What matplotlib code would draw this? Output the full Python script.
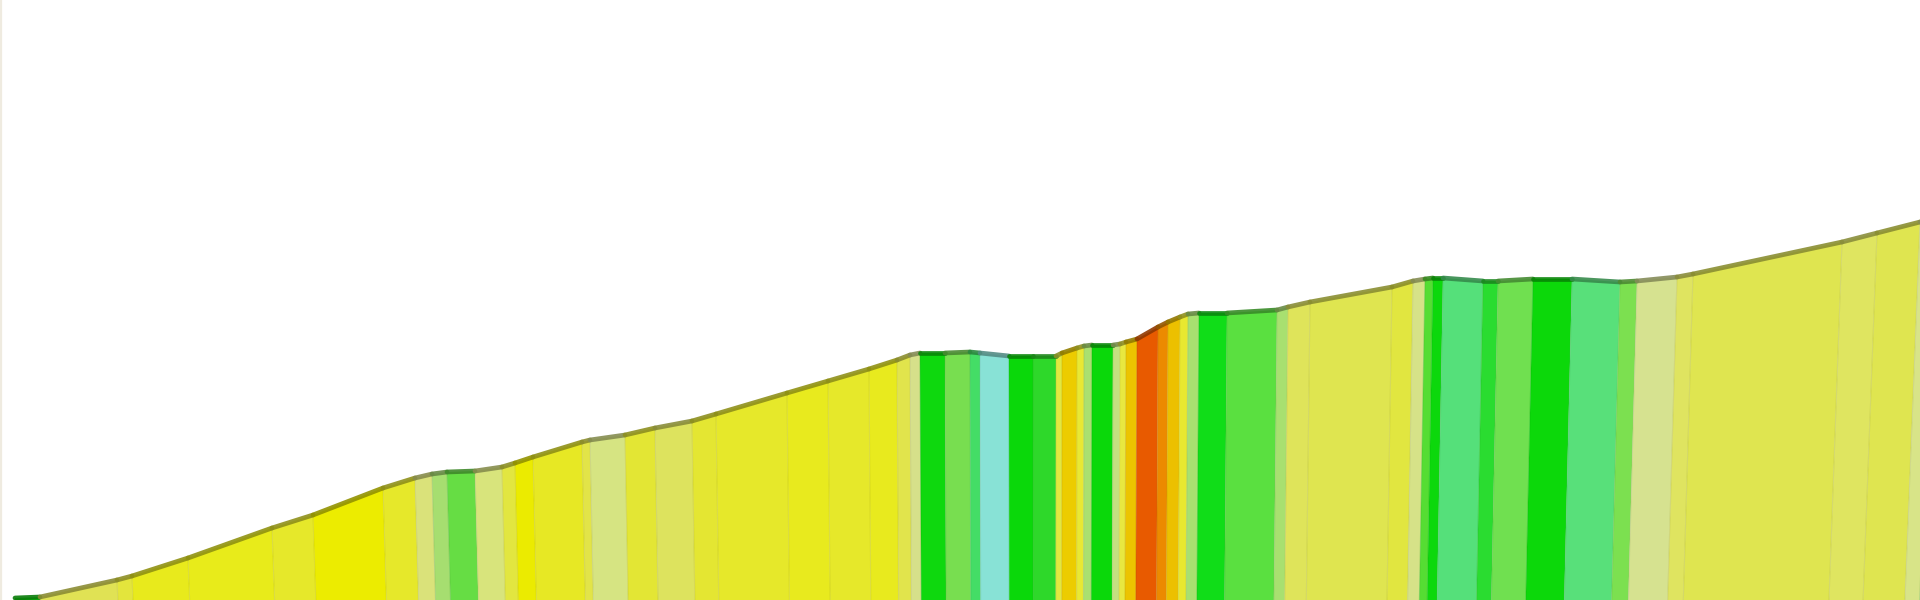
import matplotlib
matplotlib.use("Agg")
import matplotlib.pyplot as plt
from matplotlib.patches import Polygon
from matplotlib.colors import to_rgb

# Route profile: breakpoints (km) and elevation (m)
distance_km = [0.15, 0.40, 1.17, 1.32, 1.88, 2.72, 3.13, 3.83, 4.15, 4.32,
               4.47, 4.75, 5.02, 5.15, 5.33, 5.82, 5.90, 6.25, 6.55, 6.92,
               7.16, 7.87, 8.28, 8.69, 8.97, 9.10, 9.20, 9.45, 9.70, 9.80,
               10.09, 10.33, 10.56, 10.62, 10.77, 10.84, 10.92, 11.13, 11.20, 11.26,
               11.37, 11.58, 11.68, 11.80, 11.88, 11.99, 12.27, 12.77, 12.88, 13.10,
               13.92, 14.13, 14.25, 14.33, 14.43, 14.83, 14.98, 15.33, 15.72, 16.20,
               16.37, 16.77, 16.93, 18.42, 18.77, 19.20, 19.35, 20.00]

elevation_m = [204, 206, 240, 248, 284, 344, 370, 424, 444, 452,
               456, 458, 466, 474, 486, 516, 520, 530, 544, 558,
               572, 614, 638, 662, 680, 690, 694, 694, 696, 694,
               688, 688, 688, 694, 704, 708, 710, 710, 712, 716,
               722, 746, 756, 766, 772, 774, 774, 780, 786, 796,
               826, 838, 842, 844, 844, 838, 838, 842, 842, 836,
               838, 846, 852, 916, 934, 956, 962, 988]

segment_colors = ["#10c810", "#e0e254", "#e3e53c", "#e8ea1c", "#e8eb1a", "#e6e82a",
                  "#ecec00", "#e6e82a", "#dae27a", "#a6de70", "#66dd44", "#d8e47c",
                  "#e2e640", "#ebeb00", "#e7e824", "#e2e448", "#d6e482", "#e3e634",
                  "#dde35e", "#e4e632", "#e6e82a", "#e8ea1e", "#e6e82a", "#e8ea1e",
                  "#e1e44c", "#d6e08a", "#0ed80e", "#78de50", "#44dd66", "#88e2d6",
                  "#0ad80a", "#2ed82a", "#e2e840", "#eccc00", "#e8e834", "#aae070",
                  "#0ad80a", "#c4e080", "#e8e840", "#ecc400", "#e85a00", "#ec8a00",
                  "#ecc000", "#e8e830", "#a8e070", "#10dd18", "#5ae040", "#a8e070",
                  "#dfe45a", "#dfe550", "#e1e640", "#d6e288", "#55dd33", "#0cd80c",
                  "#55e07a", "#2adc30", "#70e050", "#0cd80a", "#58e07a", "#7ce050",
                  "#d6e290", "#dfe460", "#dfe550", "#dfe560", "#dfe550", "#d8e488",
                  "#a8e070"]

VANISH_X = 10.4
VANISH_ELEV = -43200.0
BASE_ELEV = 100.0


def base_x(x, e):
    t = (BASE_ELEV - e) / (VANISH_ELEV - e)
    return x + t * (VANISH_X - x)


def darker(c, f):
    r, g, b = to_rgb(c)
    return (r * f, g * f, b * f)


fig = plt.figure(figsize=(19.2, 6), dpi=100)
fig.patch.set_facecolor("white")
ax = fig.add_axes([0, 0, 1, 1])
ax.set_xlim(0, 19.2)
ax.set_ylim(200, 1400)
ax.axis("off")

for i, c in enumerate(segment_colors):
    x0, x1 = distance_km[i], distance_km[i + 1]
    e0, e1 = elevation_m[i], elevation_m[i + 1]
    pts = [(x0, e0), (x1, e1), (base_x(x1, e1), BASE_ELEV), (base_x(x0, e0), BASE_ELEV)]
    ax.add_patch(Polygon(pts, closed=True, facecolor=c, edgecolor="none", zorder=1))
    ax.plot([x0, base_x(x0, e0)], [e0, BASE_ELEV], color=darker(c, 0.8),
            alpha=0.35, lw=0.8, zorder=2)

for i, c in enumerate(segment_colors):
    x0, x1 = distance_km[i], distance_km[i + 1]
    e0, e1 = elevation_m[i], elevation_m[i + 1]
    ax.plot([x0, x1], [e0, e1], color=darker(c, 0.62), lw=3.4,
            solid_capstyle="round", solid_joinstyle="round", alpha=0.9, zorder=3)

ax.axvline(0.005, color="#efebe0", lw=1.6, zorder=4)

fig.savefig("out.png", dpi=100, facecolor="white")
